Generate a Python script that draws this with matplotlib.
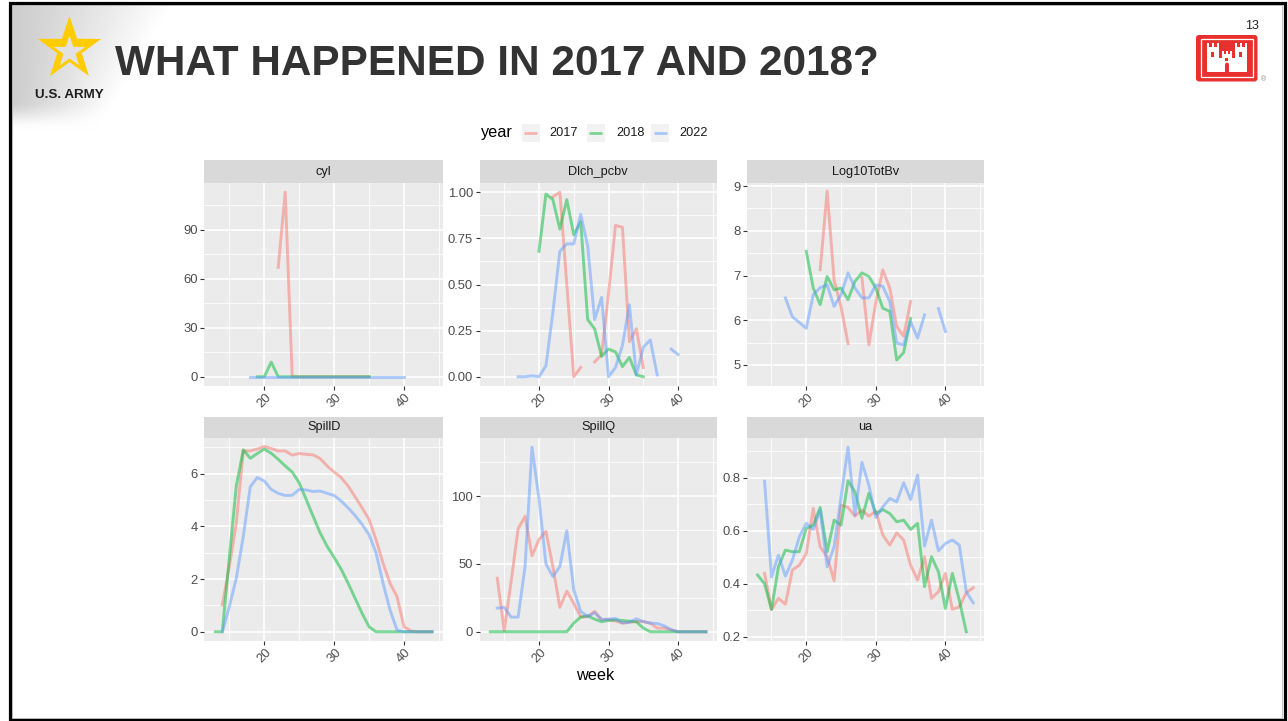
import numpy as np
import matplotlib
matplotlib.use("Agg")
import matplotlib.pyplot as plt
from matplotlib.patches import Rectangle, FancyBboxPatch, Polygon, Circle
from matplotlib.ticker import FormatStrFormatter

plt.rcParams['font.family'] = ['Liberation Sans', 'DejaVu Sans']

# ---------------------------------------------------------------- data
years = ["2017", "2018", "2022"]
year_colors = ["#F8766D", "#00BA38", "#619CFF"]

week_min, week_max = 13, 44
x_ticks = [20, 30, 40]
x_minor = [15, 25, 35, 45]

# cyl
cyl_2017_start = 22
cyl_2017 = [67, 113, 0, 0, 0, 0, 0, 0, 0, 0, 0, 0, 0, 0]
cyl_2018_start = 19
cyl_2018 = [0, 0, 9, 0, 0, 0, 0, 0, 0, 0, 0, 0, 0, 0, 0, 0, 0]
cyl_2022_start = 18
cyl_2022 = [0] * 23

# Dlch_pcbv
dlch_2017_start = 22
dlch_2017 = [0.975, 1.0, 0.5, 0.0, 0.05, None, 0.08, 0.12, 0.45, 0.82, 0.81,
             0.19, 0.26, 0.05]
dlch_2018_start = 20
dlch_2018 = [0.68, 0.99, 0.96, 0.80, 0.96, 0.77, 0.84, 0.31, 0.26, 0.11, 0.15,
             0.135, 0.055, 0.105, 0.01, 0.0]
dlch_2022_start = 17
dlch_2022 = [0.0, 0.0, 0.005, 0.0, 0.06, 0.35, 0.68, 0.72, 0.72, 0.88, 0.71,
             0.31, 0.43, 0.0, 0.05, 0.17, 0.39, 0.01, 0.16, 0.20, 0.01, None,
             0.15, 0.12]

# Log10TotBv
ltb_2017_start = 22
ltb_2017 = [7.13, 8.89, 6.9, 6.3, 5.48, None, 6.96, 5.45, 6.4, 7.13, 6.72,
            5.86, 5.64, 6.42]
ltb_2018_start = 20
ltb_2018 = [7.54, 6.72, 6.35, 6.98, 6.68, 6.72, 6.46, 6.87, 7.06, 6.98, 6.72,
            6.27, 6.2, 5.11, 5.28, 6.04]
ltb_2022_start = 17
ltb_2022 = [6.5, 6.08, 5.95, 5.82, 6.57, 6.73, 6.79, 6.31, 6.57, 7.06, 6.72,
            6.5, 6.5, 6.79, 6.76, 6.42, 5.49, 5.45, 5.97, 5.6, 6.12, None,
            6.26, 5.75]

# SpillD
spd_2017_start = 14
spd_2017 = [1.02, 2.48, 4.13, 6.86, 6.86, 6.93, 7.03, 6.95, 6.86, 6.86, 6.70,
            6.76, 6.73, 6.71, 6.57, 6.29, 6.06, 5.85, 5.53, 5.12, 4.70, 4.26,
            3.49, 2.60, 1.84, 1.33, 0.19, 0.03, 0, 0, 0]
spd_2018_start = 13
spd_2018 = [0, 0, 2.8, 5.53, 6.9, 6.58, 6.76, 6.93, 6.77, 6.54, 6.29, 6.06,
            5.65, 5.02, 4.38, 3.75, 3.24, 2.82, 2.38, 1.84, 1.27, 0.70, 0.19,
            0, 0, 0, 0, 0, 0, 0, 0, 0]
spd_2022_start = 14
spd_2022 = [0, 0.95, 2.03, 3.62, 5.5, 5.85, 5.72, 5.4, 5.25, 5.17, 5.18, 5.4,
            5.38, 5.32, 5.34, 5.25, 5.17, 4.96, 4.70, 4.41, 4.07, 3.68, 2.99,
            1.84, 0.83, 0.06, 0, 0, 0, 0, 0]

# SpillQ
spq_2017_start = 14
spq_2017 = [39.5, 1, 37, 76, 85, 56, 68, 74, 48, 18, 30, 21, 11, 11, 15, 9, 9,
            8, 6.4, 7, 7.4, 7.6, 6.4, 2.7, 2.7, 1.5, 0, 0, 0, 0, 0]
spq_2018_start = 13
spq_2018 = [0, 0, 0, 0, 0, 0, 0, 0, 0, 0, 0, 0, 6.4, 10.8, 11.8, 9.3, 7.4,
            8.3, 8.8, 8.3, 7.8, 7.4, 2.7, 0, 0, 0, 0, 0, 0, 0, 0, 0]
spq_2022_start = 14
spq_2022 = [17.4, 18, 10.8, 10.8, 48, 136, 98, 50, 40.7, 48, 74.5, 31, 15,
            11.3, 14, 9, 9.3, 9.8, 6.4, 7, 9.6, 7.4, 6.4, 6.1, 4.4, 1.5, 0, 0,
            0, 0, 0]

# ua
ua_2017_start = 14
ua_2017 = [0.439, 0.303, 0.345, 0.323, 0.452, 0.47, 0.514, 0.684, 0.539,
           0.502, 0.411, 0.697, 0.688, 0.655, 0.678, 0.655, 0.674, 0.584,
           0.546, 0.592, 0.565, 0.47, 0.414, 0.502, 0.345, 0.37, 0.439, 0.303,
           0.313, 0.366, 0.385]
ua_2018_start = 13
ua_2018 = [0.433, 0.40, 0.303, 0.464, 0.527, 0.521, 0.521, 0.609, 0.621,
           0.688, 0.521, 0.64, 0.621, 0.789, 0.747, 0.647, 0.741, 0.665, 0.68,
           0.665, 0.634, 0.64, 0.605, 0.628, 0.389, 0.502, 0.445, 0.307,
           0.439, 0.338, 0.219]
ua_2022_start = 14
ua_2022 = [0.787, 0.426, 0.508, 0.429, 0.489, 0.577, 0.628, 0.605, 0.678,
           0.464, 0.54, 0.728, 0.915, 0.659, 0.858, 0.772, 0.65, 0.69, 0.722,
           0.709, 0.781, 0.718, 0.81, 0.542, 0.64, 0.524, 0.552, 0.565, 0.546,
           0.37, 0.328]

panel_names = ["cyl", "Dlch_pcbv", "Log10TotBv", "SpillD", "SpillQ", "ua"]
panel_series = [
    [(cyl_2017_start, cyl_2017), (cyl_2018_start, cyl_2018), (cyl_2022_start, cyl_2022)],
    [(dlch_2017_start, dlch_2017), (dlch_2018_start, dlch_2018), (dlch_2022_start, dlch_2022)],
    [(ltb_2017_start, ltb_2017), (ltb_2018_start, ltb_2018), (ltb_2022_start, ltb_2022)],
    [(spd_2017_start, spd_2017), (spd_2018_start, spd_2018), (spd_2022_start, spd_2022)],
    [(spq_2017_start, spq_2017), (spq_2018_start, spq_2018), (spq_2022_start, spq_2022)],
    [(ua_2017_start, ua_2017), (ua_2018_start, ua_2018), (ua_2022_start, ua_2022)],
]
y_major = [[0, 30, 60, 90], [0, 0.25, 0.5, 0.75, 1.0], [5, 6, 7, 8, 9],
           [0, 2, 4, 6], [0, 50, 100], [0.2, 0.4, 0.6, 0.8]]
y_minor = [[15, 45, 75, 105], [0.125, 0.375, 0.625, 0.875], [5.5, 6.5, 7.5, 8.5],
           [1, 3, 5, 7], [25, 75, 125], [0.3, 0.5, 0.7, 0.9]]
y_fmt = ["%g", "%.2f", "%g", "%g", "%g", "%.1f"]
y_lims = [(-5.65, 118.65), (-0.05, 1.05), (4.53, 9.07),
          (-0.35, 7.35), (-6.8, 142.8), (0.184, 0.95)]

# ---------------------------------------------------------------- layout
W, H = 1288, 721
fig = plt.figure(figsize=(W / 100, H / 100), dpi=100)
fig.patch.set_facecolor("white")


def box(x0, y0, x1, y1):
    return [x0 / W, 1 - y1 / H, (x1 - x0) / W, (y1 - y0) / H]


# slide decoration layer in pixel coordinates
bg = fig.add_axes([0, 0, 1, 1])
bg.set_xlim(0, W)
bg.set_ylim(H, 0)
bg.axis("off")


def shade(x, y):
    x_end = 172 - 0.6 * (y - 3)
    t = np.clip((x - 10) / np.maximum(x_end - 10, 1), 0, 1)
    g = 0.80 + 0.20 * t ** 1.1
    v = np.clip((y - 100) / 30, 0, 1)
    v = v * v * (3 - 2 * v)
    return g + (1 - g) * v


gx = np.arange(10, 200)
gy = np.arange(3, 135)
GX, GY = np.meshgrid(gx, gy)
G = shade(GX.astype(float), GY.astype(float))
bg.imshow(np.dstack([G, G, G]), extent=(10, 200, 135, 3), aspect="auto",
          interpolation="bilinear", zorder=0)


def star(cx, cy, R, r):
    pts = []
    for i in range(10):
        a = -np.pi / 2 + i * np.pi / 5
        rad = R if i % 2 == 0 else r
        pts.append((cx + rad * np.cos(a), cy + rad * np.sin(a)))
    return pts


bg.add_patch(Polygon(star(69.5, 49.2, 33.2, 12.9), closed=True,
                     facecolor="#FFCC00", edgecolor="none", zorder=2))
hole = shade(69.5, 52.0)
bg.add_patch(Polygon(star(69.5, 52.0, 16.5, 6.4), closed=True,
                     facecolor=(hole, hole, hole), edgecolor="none", zorder=3))
bg.text(69, 95, "U.S. ARMY", ha="center", va="center", fontsize=9.6,
        fontweight="bold", color="#1E1E1E", zorder=3)

bg.text(115, 75, "WHAT HAPPENED IN 2017 AND 2018?", ha="left", va="baseline",
        fontsize=30.4, fontweight="bold", color="#333333", zorder=3)
bg.text(1252, 26, "13", ha="center", va="center", fontsize=9, color="#222222")

# castle emblem
red = "#E8312F"
bg.add_patch(FancyBboxPatch((1196, 35), 61.5, 46.5,
                            boxstyle="round,pad=0,rounding_size=3",
                            facecolor=red, edgecolor="none", zorder=2))
bg.add_patch(Rectangle((1200.6, 39.3), 52.6, 37.6, facecolor="none",
                       edgecolor="white", lw=0.9, zorder=3))


def castle_block(x0, x1, ytop, ybot, merlons, mh):
    parts = [Rectangle((x0, ytop), x1 - x0, ybot - ytop)]
    w = (x1 - x0) / (2 * merlons - 1)
    for k in range(merlons):
        parts.append(Rectangle((x0 + 2 * k * w, ytop - mh), w, mh))
    return parts


blocks = []
blocks += castle_block(1207, 1219, 47, 72, 3, 4.5)
blocks += castle_block(1235, 1247, 47, 72, 3, 4.5)
blocks += castle_block(1222, 1232, 54, 72, 3, 3.5)
blocks += castle_block(1219, 1222, 58, 72, 1, 0)
blocks += castle_block(1232, 1235, 58, 72, 1, 0)
for b in blocks:
    b.set_facecolor("white")
    b.set_edgecolor("none")
    b.set_zorder(4)
    bg.add_patch(b)
for (wx, wy, ww, wh) in [(1211.5, 52, 3, 5), (1239.5, 52, 3, 5), (1225.5, 57.5, 3, 3)]:
    bg.add_patch(Rectangle((wx, wy), ww, wh, facecolor=red, edgecolor="none", zorder=5))
bg.add_patch(Rectangle((1225.1, 64.5), 3.8, 7.5, facecolor=red, edgecolor="none", zorder=5))
bg.add_patch(Circle((1227.0, 64.5), 1.9, facecolor=red, edgecolor="none", zorder=5))
bg.text(1264, 80, "\u00ae", ha="center", va="center", fontsize=5, color="#888888")

# slide frame
bg.add_patch(Rectangle((12, 5), 1270.5, 712.5, facecolor="none",
                       edgecolor="#C8C8C8", lw=0.7, zorder=6))
bg.add_patch(Rectangle((10, 3), 1274.7, 716.7, facecolor="none",
                       edgecolor="black", lw=2.3, zorder=7))

# legend
bg.text(481, 133, "year", ha="left", va="center", fontsize=11.7, color="black")
key_x = [522, 587, 651.5]
lab_x = [549, 616, 679]
for kx, lx, yr, col in zip(key_x, lab_x, years, year_colors):
    bg.add_patch(Rectangle((kx, 124), 18, 18, facecolor="#F2F2F2",
                           edgecolor="none", zorder=2))
    bg.plot([kx + 2.5, kx + 15.5], [133, 133], color=col, alpha=0.5,
            lw=2.0, solid_capstyle="butt", zorder=3)
    bg.text(lx, 133, yr, ha="left", va="center", fontsize=9.2, color="#1A1A1A")

bg.text(595, 676, "week", ha="center", va="center", fontsize=11.7, color="black")

# ---------------------------------------------------------------- facets
col_edges = [(204.5, 442.8), (479.5, 716.7), (746.8, 984.0)]
row_edges = [(160, 183, 386), (416.5, 438, 641)]

x_pad = 0.05 * (week_max - week_min)
for i, name in enumerate(panel_names):
    r, c = divmod(i, 3)
    x0, x1 = col_edges[c]
    s_top, p_top, p_bot = row_edges[r]

    sax = fig.add_axes(box(x0, s_top, x1, p_top))
    sax.set_facecolor("#D9D9D9")
    sax.set_xticks([])
    sax.set_yticks([])
    for sp in sax.spines.values():
        sp.set_visible(False)
    sax.text(0.5, 0.5, name, ha="center", va="center", fontsize=9.2,
             color="#1A1A1A", transform=sax.transAxes)

    ax = fig.add_axes(box(x0, p_top, x1, p_bot))
    ax.set_facecolor("#EBEBEB")
    for sp in ax.spines.values():
        sp.set_visible(False)
    ax.set_xlim(week_min - x_pad, week_max + x_pad)
    ax.set_ylim(*y_lims[i])
    ax.set_xticks(x_ticks)
    ax.set_xticks(x_minor, minor=True)
    ax.set_yticks(y_major[i])
    ax.set_yticks(y_minor[i], minor=True)
    ax.yaxis.set_major_formatter(FormatStrFormatter(y_fmt[i]))
    ax.grid(which="major", color="white", lw=1.2)
    ax.grid(which="minor", color="white", lw=0.6)
    ax.set_axisbelow(True)
    ax.tick_params(which="major", length=2.6, width=0.8, color="#333333",
                   labelcolor="#4D4D4D", labelsize=9.4)
    ax.tick_params(axis="x", which="major", pad=1.5)
    ax.tick_params(axis="y", which="major", pad=2)
    ax.tick_params(which="minor", length=0)
    for lbl in ax.get_xticklabels():
        lbl.set_rotation(45)
        lbl.set_ha("center")
        lbl.set_va("top")

    for (start, vals), col in zip(panel_series[i], year_colors):
        v = np.array(vals, dtype=float)
        wk = np.arange(start, start + len(v))
        ax.plot(wk, v, color=col, alpha=0.5, lw=2.1, solid_joinstyle="round")

fig.savefig("out.png", dpi=100, facecolor="white")
